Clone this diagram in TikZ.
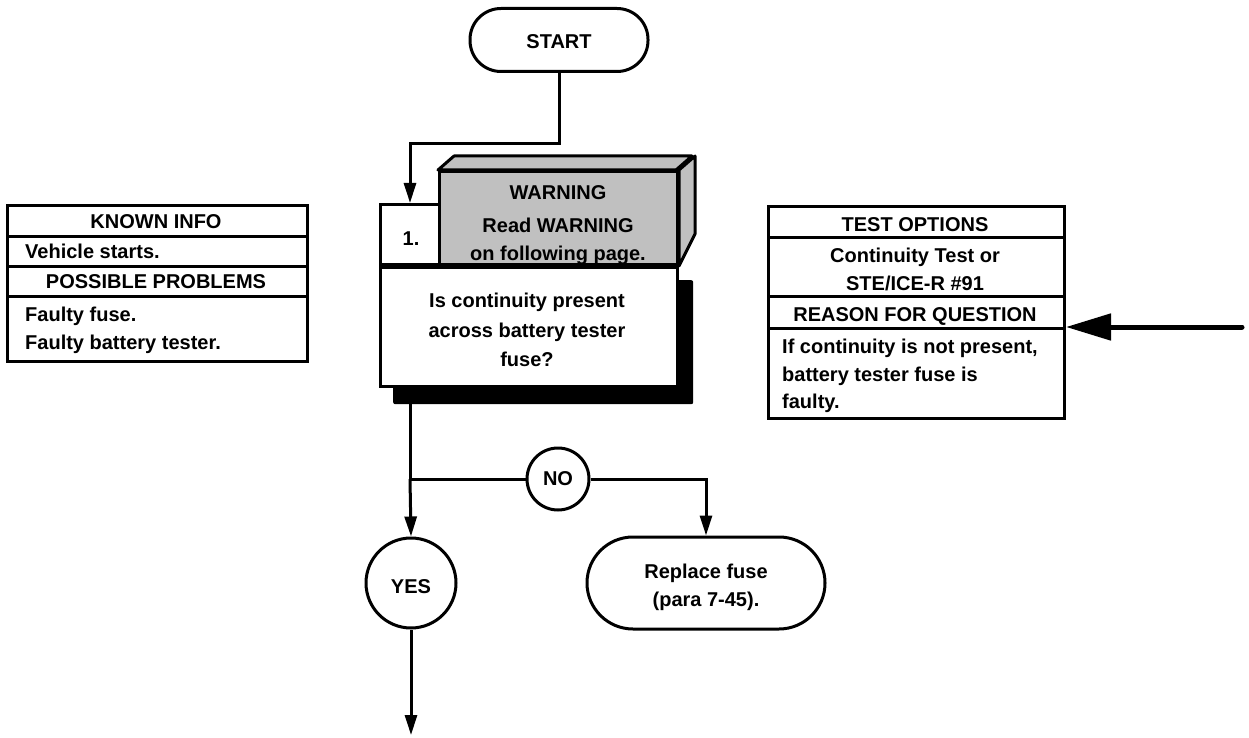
\documentclass[tikz,border=0pt]{standalone}
\usepackage{fontspec}
\setmainfont{Liberation Sans}
\usetikzlibrary{arrows.meta,positioning,calc}
\definecolor{boxgray}{RGB}{192,192,192}
\tikzset{
  every node/.style={font=\fontsize{20}{28}\selectfont\bfseries},
  line/.style={line width=3pt},
  flow/.style={line width=3pt,-{Triangle[length=20pt,width=12pt]}},
  pill/.style={draw,line width=3pt,rounded corners=#1,fill=white,align=center,inner sep=0pt},
  cell/.style={draw,line width=3pt,fill=white,inner sep=0pt,anchor=north west},
  ring/.style={draw,circle,line width=3pt,fill=white,inner sep=0pt},
  txt/.style={anchor=base,inner sep=0pt},
  ltxt/.style={anchor=base west,inner sep=0pt},
}
\begin{document}
\begin{tikzpicture}[x=1pt,y=-1pt]
\useasboundingbox (0,0) rectangle (1249,738);
% START
\node[pill=31pt,minimum width=178pt,minimum height=63pt] (start) at (559,40) {};
\node[txt] (startt) at (559,49) {START};
% shadow
\node[fill=black,rounded corners=2pt,minimum width=300pt,minimum height=124pt,anchor=north west,inner sep=0pt] (shadow) at (393,280) {};
% question box
\node[cell,minimum width=297pt,minimum height=119pt] (q) at (379,266) {};
\node[txt] (q1) at (527,307) {Is continuity present};
\node[txt] (q2) at (527,337) {across battery tester};
\node[txt] (q3) at (527,366) {fuse?};
% number cell
\node[cell,minimum width=60pt,minimum height=60pt,anchor=south west] (num) at (379,266) {};
\node[txt] (numt) at (411,245) {1.};
% warning 3D box
\node[cell,fill=boxgray,minimum width=238pt,minimum height=93pt,anchor=south west] (warn) at (438,266) {};
\draw[line,fill=boxgray,line join=round] (warn.north west) -- ++(16,-14) -- ++(238,0) -- ++(-16,14) -- cycle;
\draw[line,fill=boxgray,line join=round] (warn.north east) -- ++(16,-14) -- ++(0,78) -- (warn.south east) -- cycle;
\node[txt] (w1) at (558,200) {WARNING};
\node[txt] (w2) at (558,232) {Read WARNING};
\node[txt] (w3) at (558,260) {on following page.};
% left table
\node[cell,minimum width=300pt,minimum height=31pt] (k1) at (6,204) {};
\node[txt] at (156,228) {KNOWN INFO};
\node[cell,minimum width=300pt,minimum height=30pt] (k2) at (6,235) {};
\node[ltxt] at (25,258) {Vehicle starts.};
\node[cell,minimum width=300pt,minimum height=30pt] (k3) at (6,265) {};
\node[txt] at (156,288) {POSSIBLE PROBLEMS};
\node[cell,minimum width=300pt,minimum height=65pt] (k4) at (6,295) {};
\node[ltxt] at (25,321) {Faulty fuse.};
\node[ltxt] at (25,349) {Faulty battery tester.};
% right table
\node[cell,minimum width=296pt,minimum height=31pt] (t1) at (767,205) {};
\node[txt] at (915,231) {TEST OPTIONS};
\node[cell,minimum width=296pt,minimum height=59pt] (t2) at (767,236) {};
\node[txt] at (915,262) {Continuity Test or};
\node[txt] at (915,290) {STE/ICE-R \#91};
\node[cell,minimum width=296pt,minimum height=32pt] (t3) at (767,295) {};
\node[txt] at (915,321) {REASON FOR QUESTION};
\node[cell,minimum width=296pt,minimum height=90pt] (t4) at (767,327) {};
\node[ltxt] at (782,353) {If continuity is not present,};
\node[ltxt] at (782,381) {battery tester fuse is};
\node[ltxt] at (782,408) {faulty.};
% decisions
\node[ring,minimum size=62pt] (no) at (558,479) {NO};
\node[ring,minimum size=90pt] (yes) at (411,583) {};
\node[txt] at (411,593) {YES};
\node[pill=46pt,minimum width=238pt,minimum height=92pt] (rep) at (706,583) {};
\node[txt] at (706,578) {Replace fuse};
\node[txt] at (706,606) {(para 7-45).};
% connectors
\coordinate (c1) at (559,144);
\coordinate (c2) at (410,144);
\coordinate (br) at (410,479);
\coordinate (end) at (411,735);
\coordinate (arrs) at (1242,327);
\draw[flow] (start.south) -- (c1) -- (c2) -- (c2 |- num.north);
\draw[line] (q.south -| br) -- (br);
\draw[flow] (br) -- (yes.north);
\draw[line] (br) -- (no.west);
\draw[flow] (no.east) -| (rep.north);
\draw[flow] (yes.south) -- (end);
\draw[line width=5pt,line cap=round,-{Triangle[length=45pt,width=26pt]}] (arrs) -- (arrs -| t3.east);
\end{tikzpicture}
\end{document}
